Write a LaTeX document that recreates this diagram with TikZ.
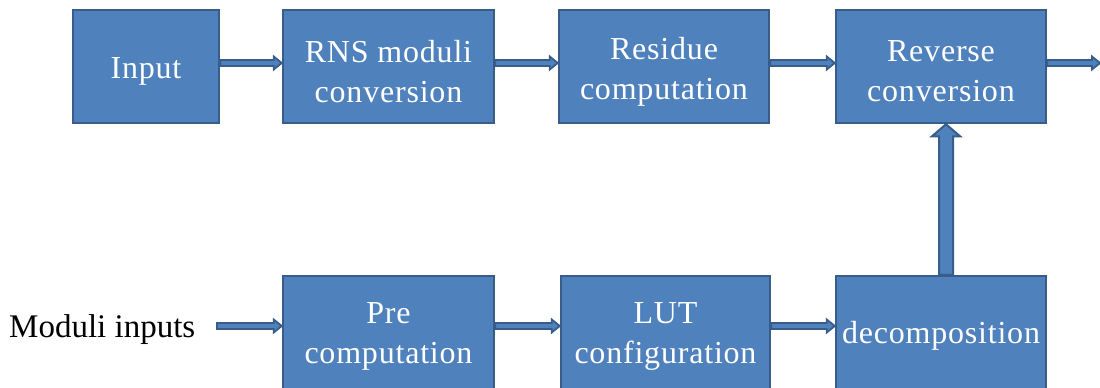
\documentclass[tikz,border=0pt]{standalone}
\usepackage{fontspec}
\setmainfont{Liberation Serif}
\newfontfamily\boxfont[LetterSpace=2.5]{Liberation Serif}
\usetikzlibrary{calc}
\definecolor{boxfill}{HTML}{4F81BD}
\definecolor{boxline}{HTML}{385D8A}
\tikzset{
  blk/.style={draw=boxline, line width=2.5pt, fill=boxfill, inner sep=0pt},
  lbl/.style={text=white, align=center, inner sep=0pt,
    font=\boxfont\fontsize{32}{40}\selectfont},
  harrow/.style={draw=boxline, line width=1.8pt, fill=boxfill, line join=miter,
    to path={let \p1=(\tikztostart), \p2=(\tikztotarget) in
      (\x1,\y1+3pt) -- (\x2-8pt,\y1+3pt) -- (\x2-8pt,\y1+6.5pt) -- (\x2,\y1)
      -- (\x2-8pt,\y1-6.5pt) -- (\x2-8pt,\y1-3pt) -- (\x1,\y1-3pt) -- cycle}},
  varrow/.style={draw=boxline, line width=2pt, fill=boxfill, line join=miter,
    to path={let \p1=(\tikztostart), \p2=(\tikztotarget) in
      (\x1-7pt,\y1) -- (\x1-7pt,\y2-12pt) -- (\x1-14pt,\y2-12pt) -- (\x1,\y2)
      -- (\x1+14pt,\y2-12pt) -- (\x1+7pt,\y2-12pt) -- (\x1+7pt,\y1) -- cycle}}
}
\begin{document}
\begin{tikzpicture}[x=1pt,y=-1pt]
\useasboundingbox (0,0) rectangle (1100,388);
% top row
\node[blk, minimum width=146pt, minimum height=113pt,
  label={[lbl,yshift=-5pt]center:Input}] (in) at (146,66.5) {};
\node[blk, minimum width=211pt, minimum height=113pt,
  label={[lbl,yshift=-5pt]center:{RNS moduli\\conversion}}] (rns) at (388.5,66.5) {};
\node[blk, minimum width=210pt, minimum height=113pt,
  label={[lbl,yshift=-5pt]center:{Residue\\computation}}] (res) at (664,66.5) {};
\node[blk, minimum width=210pt, minimum height=113pt,
  label={[lbl,yshift=-5pt]center:{Reverse\\conversion}}] (rev) at (941,66.5) {};
% bottom row
\node[blk, minimum width=211pt, minimum height=116pt,
  label={[lbl,yshift=-2pt]center:{Pre\\computation}}] (pre) at (388.5,334) {};
\node[blk, minimum width=209pt, minimum height=116pt,
  label={[lbl,yshift=-2pt]center:{LUT\\configuration}}] (lut) at (665.5,334) {};
\node[blk, minimum width=210pt, minimum height=116pt,
  label={[lbl,yshift=-2pt]center:decomposition}] (dec) at (941,334) {};
% input label
\node[anchor=west, font=\fontsize{33}{36}\selectfont, inner sep=0pt] (mod) at (9,330) {Moduli inputs};
\coordinate (modend) at (217,326);
\coordinate (out) at (1100,63);
% arrows
\path (in.east |- 0,63) edge[harrow] (rns.west |- 0,63);
\path (rns.east |- 0,63) edge[harrow] (res.west |- 0,63);
\path (res.east |- 0,63) edge[harrow] (rev.west |- 0,63);
\path (rev.east |- 0,63) edge[harrow] (out);
\path (modend) edge[harrow] (pre.west |- modend);
\path (pre.east |- 0,326) edge[harrow] (lut.west |- 0,326);
\path (lut.east |- 0,326) edge[harrow] (dec.west |- 0,326);
\path (dec.north -| 946,0) edge[varrow] (rev.south -| 946,0);
\end{tikzpicture}
\end{document}
